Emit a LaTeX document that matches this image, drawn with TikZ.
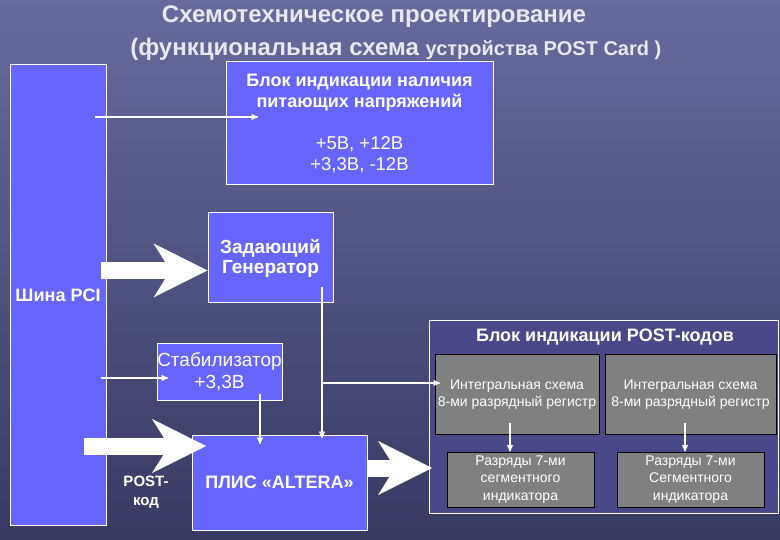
\documentclass[tikz,border=0pt]{standalone}
\usepackage{fontspec}
\setmainfont{Liberation Sans}
\usetikzlibrary{arrows,arrows.meta}

\definecolor{bgtop}{RGB}{104,106,156}
\definecolor{bgbot}{RGB}{56,58,98}
\definecolor{boxblue}{RGB}{102,102,255}
\definecolor{postblue}{RGB}{74,72,136}
\definecolor{reggray}{RGB}{128,128,128}
\definecolor{ttlcol}{RGB}{232,232,242}

\newcommand{\ttlfont}{\fontsize{24}{28}\selectfont\bfseries}
\newcommand{\lblb}{\fontsize{18}{22}\selectfont\bfseries}
\newcommand{\lblr}{\fontsize{18.5}{21.5}\selectfont}
\newcommand{\lbls}{\fontsize{15}{19}\selectfont\bfseries}
\newcommand{\regfont}{\fontsize{14}{17.5}\selectfont}

\begin{document}
\begin{tikzpicture}[x=1pt,y=-1pt,->,>=stealth',semithick,
		every node/.style={align=center,inner sep=0pt,text=white},
		blk/.style={draw=white,fill=boxblue,line width=1pt},
		reg/.style={draw=black,fill=reggray,line width=1pt,font=\regfont},
		wire/.style={white,line width=1.3pt},
		wide/.style={-{Stealth[length=54pt,width=54pt,inset=17pt,line width=0pt]},line width=17pt,white}]
			\shade[-,top color=bgtop,bottom color=bgbot] (0,0) rectangle (780,540);
			\useasboundingbox (0,0) rectangle (780,540);
			\node[font=\ttlfont,text=ttlcol] (ttl1) at (374,17) {Схемотехническое проектирование};
			\node[font=\ttlfont,text=ttlcol,anchor=base west] (ttl2) at (130,55.5) {(функциональная схема {\fontsize{20}{22}\selectfont устройства POST Card )}};
			\node[blk,minimum width=96pt,minimum height=460pt,font=\lblb] (pci) at (58,295) {Шина PCI};
			\node[blk,minimum width=267pt,minimum height=123pt,font=\lblr] (pwr) at (359.5,123.5) {\textbf{\lblb Блок индикации наличия}\\\textbf{\lblb питающих напряжений}\\[20pt]+5В, +12В\\+3,3В, -12В};
			\node[blk,minimum width=125pt,minimum height=90pt,font=\fontsize{19}{20}\selectfont\bfseries] (gen) at (270.5,258) {Задающий\\Генератор};
			\node[blk,minimum width=125pt,minimum height=56pt,font=\fontsize{19}{22}\selectfont] (stab) at (219.5,372) {Стабилизатор\\+3,3В};
			\node[blk,minimum width=175pt,minimum height=95pt,font=\lblb] (plis) at (279.5,482.5) {ПЛИС «ALTERA»};
			\node[font=\lbls] (code) at (146,492) {POST-\\код};
			\node[draw=white,fill=postblue,line width=1pt,minimum width=349pt,minimum height=192pt] (post) at (603.5,417) {};
			\node[font=\lblb] (posttl) at (605,337) {Блок индикации POST-кодов};
			\node[reg,minimum width=164pt,minimum height=79pt] (reg1) at (517,394.5) {Интегральная схема\\8-ми разрядный регистр};
			\node[reg,minimum width=171pt,minimum height=79pt] (reg2) at (690.5,394.5) {Интегральная схема\\8-ми разрядный регистр};
			\node[reg,minimum width=147pt,minimum height=55pt] (seg1) at (520.5,479.5) {Разряды 7-ми\\сегментного\\индикатора};
			\node[reg,minimum width=147pt,minimum height=55pt] (seg2) at (690.5,479.5) {Разряды 7-ми\\Сегментного\\индикатора};
			\coordinate (pcipwr) at (95,117);
			\coordinate (pwrin) at (258,117);
			\coordinate (pcistab) at (101,378);
			\coordinate (stabin) at (168,378);
			\coordinate (stabout) at (260,394);
			\coordinate (genout) at (322,287);
			\coordinate (fork) at (322,383);
			\coordinate (regin) at (440,383);
			\coordinate (pcigen) at (101,270.5);
			\coordinate (pciplis) at (84,446);
			\coordinate (plisin) at (206,446);
			\coordinate (plisout) at (367,468);
			\coordinate (postin) at (432,468);
			\draw[wire] (pcipwr) -- (pwrin);
			\draw[wire] (pcistab) -- (stabin);
			\draw[wire] (stabout) -- (stabout |- 0,444);
			\draw[wire] (genout) -- (genout |- 0,438);
			\draw[wire] (fork) -- (regin);
			\draw[wire] (510,423) -- (seg1.north -| 510,0);
			\draw[wire] (685,423) -- (seg2.north -| 685,0);
			\draw[wide] (pcigen) -- (pcigen -| gen.west);
			\draw[wide] (pciplis) -- (plisin);
			\draw[wide] (plisout) -- (postin);
		\end{tikzpicture}
\end{document}
